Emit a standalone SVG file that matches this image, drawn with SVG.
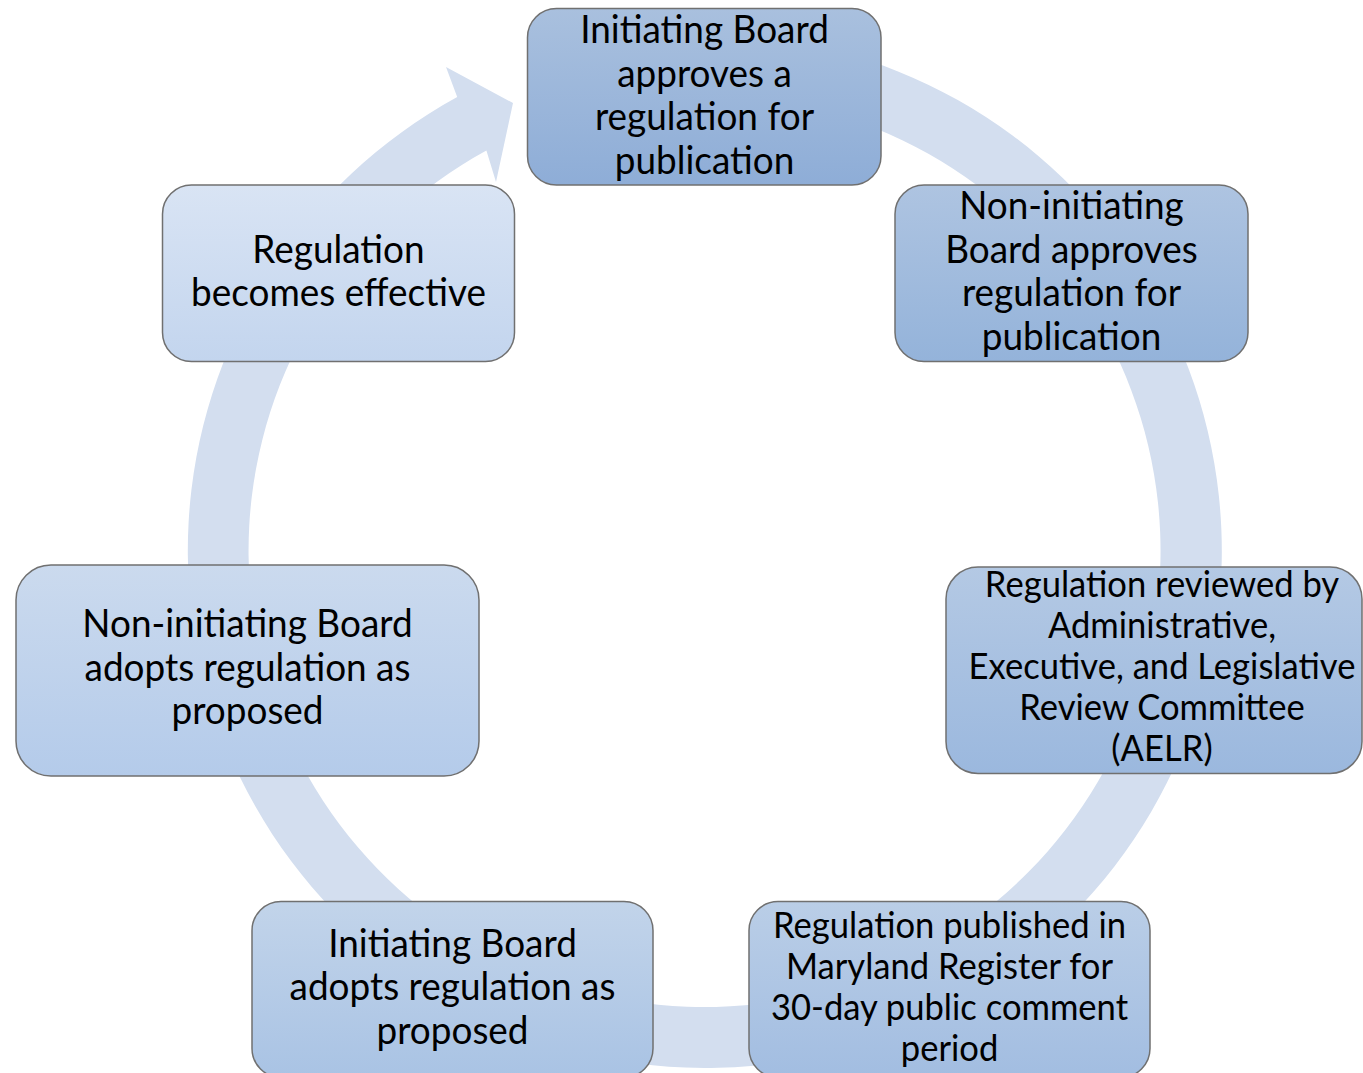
<svg xmlns="http://www.w3.org/2000/svg" width="1363" height="1073" viewBox="0 0 1363 1073">
<defs>
<style>
.box{stroke:#707070;stroke-width:1.5}
.t{font-family:Lato,"Liberation Sans",sans-serif;fill:#000;text-anchor:middle}
.big{font-size:39.5px}
.sm{font-size:37px}
</style>
<linearGradient id="g1" x1="0" y1="0" x2="0" y2="1"><stop offset="0" stop-color="#a9c0de"/><stop offset="1" stop-color="#8eadd7"/></linearGradient>
<linearGradient id="g2" x1="0" y1="0" x2="0" y2="1"><stop offset="0" stop-color="#aec4e1"/><stop offset="1" stop-color="#94b3da"/></linearGradient>
<linearGradient id="g3" x1="0" y1="0" x2="0" y2="1"><stop offset="0" stop-color="#b4c9e4"/><stop offset="1" stop-color="#9bb8de"/></linearGradient>
<linearGradient id="g4" x1="0" y1="0" x2="0" y2="1"><stop offset="0" stop-color="#bacee7"/><stop offset="1" stop-color="#a2bde1"/></linearGradient>
<linearGradient id="g5" x1="0" y1="0" x2="0" y2="1"><stop offset="0" stop-color="#c2d4ea"/><stop offset="1" stop-color="#a9c3e4"/></linearGradient>
<linearGradient id="g6" x1="0" y1="0" x2="0" y2="1"><stop offset="0" stop-color="#cbdaee"/><stop offset="1" stop-color="#b4cbea"/></linearGradient>
<linearGradient id="g7" x1="0" y1="0" x2="0" y2="1"><stop offset="0" stop-color="#d9e4f4"/><stop offset="1" stop-color="#c3d5ee"/></linearGradient>
</defs>
<rect width="1363" height="1073" fill="#ffffff"/>
<g id="connectors">
<path d="M 544.9 59.3 A 517 517 0 1 1 457.2 97.1 L 446 67 L 513 103 L 496 182 L 486.4 150.6 A 456 456 0 1 0 563.8 117.3 Z" fill="#d3deef"/>
</g>
<g id="node1">
<rect class="box" x="527.5" y="8.5" width="353.5" height="176.5" rx="29" fill="url(#g1)"/>
<text class="t big" transform="translate(704.5 0) scale(0.935 1)"><tspan x="0" y="43.3">Initiating Board</tspan><tspan x="0" y="86.8">approves a</tspan><tspan x="0" y="130.3">regulation for</tspan><tspan x="0" y="173.8">publication</tspan></text>
</g>
<g id="node2">
<rect class="box" x="895" y="185" width="353" height="176.5" rx="29" fill="url(#g2)"/>
<text class="t big" transform="translate(1071.5 0) scale(0.935 1)"><tspan x="0" y="219.5">Non-initiating</tspan><tspan x="0" y="263">Board approves</tspan><tspan x="0" y="306.5">regulation for</tspan><tspan x="0" y="350">publication</tspan></text>
</g>
<g id="node3">
<rect class="box" x="946" y="567" width="416" height="206.5" rx="32" fill="url(#g3)"/>
<text class="t sm" transform="translate(1162 0) scale(0.935 1)"><tspan x="0" y="597">Regulation reviewed by</tspan><tspan x="0" y="638">Administrative,</tspan><tspan x="0" y="679">Executive, and Legislative</tspan><tspan x="0" y="720">Review Committee</tspan><tspan x="0" y="761">(AELR)</tspan></text>
</g>
<g id="node4">
<rect class="box" x="749" y="901.5" width="401" height="176" rx="29" fill="url(#g4)"/>
<text class="t sm" transform="translate(949.5 0) scale(0.935 1)"><tspan x="0" y="938.5">Regulation published in</tspan><tspan x="0" y="979.5">Maryland Register for</tspan><tspan x="0" y="1020.5">30-day public comment</tspan><tspan x="0" y="1061.5">period</tspan></text>
</g>
<g id="node5">
<rect class="box" x="252" y="901.5" width="401" height="176" rx="29" fill="url(#g5)"/>
<text class="t big" transform="translate(452.5 0) scale(0.935 1)"><tspan x="0" y="956.7">Initiating Board</tspan><tspan x="0" y="1000.2">adopts regulation as</tspan><tspan x="0" y="1043.7">proposed</tspan></text>
</g>
<g id="node6">
<rect class="box" x="16" y="565" width="463" height="211" rx="35" fill="url(#g6)"/>
<text class="t big" transform="translate(247.5 0) scale(0.935 1)"><tspan x="0" y="637.5">Non-initiating Board</tspan><tspan x="0" y="681">adopts regulation as</tspan><tspan x="0" y="724.5">proposed</tspan></text>
</g>
<g id="node7">
<rect class="box" x="162.5" y="185" width="352" height="176.5" rx="29" fill="url(#g7)"/>
<text class="t big" transform="translate(338.5 0) scale(0.935 1)"><tspan x="0" y="263.3">Regulation</tspan><tspan x="0" y="306.5">becomes effective</tspan></text>
</g>
</svg>
